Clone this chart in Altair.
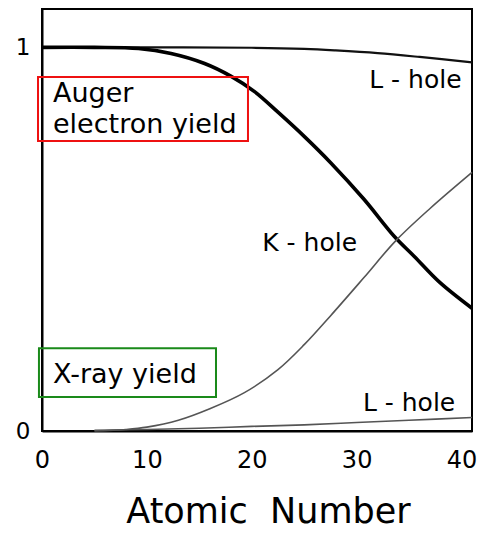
import altair as alt
import pandas as pd

# ---- data ----
z_auger_k = [0, 5, 9.2, 12.3, 15.5, 18.0, 20.3, 22.5, 25.0, 27.5, 30.7, 33.6, 35.5, 37.9, 41.0]
auger_k = [1.0, 1.0, 0.997, 0.984, 0.958, 0.925, 0.884, 0.831, 0.768, 0.700, 0.604, 0.507, 0.455, 0.388, 0.320]

z_auger_l = [0, 10, 20, 25, 28, 32, 36, 41]
auger_l = [1.0, 1.0, 0.999, 0.996, 0.992, 0.985, 0.975, 0.961]

z_xray_k = [5, 8, 10, 13, 16, 19.3, 22.5, 25, 27.5, 30.7, 33.7, 37, 41]
xray_k = [0.0, 0.004, 0.01, 0.028, 0.058, 0.1, 0.16, 0.225, 0.3, 0.4, 0.495, 0.58, 0.674]

z_xray_l = [5, 10, 15, 20, 25, 30, 35, 41]
xray_l = [0.002, 0.004, 0.007, 0.012, 0.016, 0.022, 0.028, 0.035]

x_ticks = [0, 10, 20, 30, 40]
y_ticks = [0, 1]

# annotation texts (in data units)
hole_labels = ["L - hole", "K - hole", "L - hole"]
hole_z = [31.2, 21.0, 30.6]
hole_v = [0.914, 0.49, 0.073]

box_texts = ["Auger", "electron yield", "X-ray yield"]
box_text_z = [1.05, 1.05, 1.05]
box_text_v = [0.858, 0.777, 0.125]

box_names = ["auger", "xray"]
box_z1 = [-0.38, -0.29]
box_z2 = [19.64, 16.59]
box_v1 = [0.756, 0.0886]
box_v2 = [0.923, 0.216]
box_colors = ["#ee1111", "#1a8a1a"]

FONT = "DejaVu Sans"

xs = alt.Scale(domain=[0, 41], nice=False, zero=False)
ys = alt.Scale(domain=[0, 1.1], nice=False, zero=False)

x_axis = alt.Axis(values=x_ticks, format="d", ticks=False, tickSize=0, grid=False,
                  domainColor="black", domainWidth=2, labelFlush=False,
                  labelFont=FONT, labelFontSize=24, labelColor="black",
                  labelPadding=17, title="Atomic\u00a0 Number", titleFont=FONT, titleFontSize=35,
                  titleFontWeight="normal", titleColor="black", titleX=226, titleY=91,
                  titleBaseline="alphabetic", titleAlign="center")
y_axis = alt.Axis(values=y_ticks, format="d", ticks=False, tickSize=0, grid=False,
                  domainColor="black", domainWidth=2, labelFlush=False,
                  labelFont=FONT, labelFontSize=23, labelColor="black",
                  labelPadding=12, title=None)


def X(field):
    return alt.X(field, scale=xs, axis=x_axis)


def Y(field):
    return alt.Y(field, scale=ys, axis=y_axis)


def line_layer(z, v, color, width):
    df = pd.DataFrame({"z": z, "v": v})
    return alt.Chart(df).mark_line(color=color, strokeWidth=width, interpolate="catmull-rom").encode(
        x=X("z:Q"), y=Y("v:Q"),
    )


l_auger_l = line_layer(z_auger_l, auger_l, "#111111", 2.2)
l_auger_k = line_layer(z_auger_k, auger_k, "#000000", 3.6)
l_xray_k = line_layer(z_xray_k, xray_k, "#555555", 1.6)
l_xray_l = line_layer(z_xray_l, xray_l, "#555555", 1.6)

holes = alt.Chart(pd.DataFrame({"t": hole_labels, "z": hole_z, "v": hole_v})).mark_text(
    font=FONT, fontSize=25, align="left", baseline="middle", color="black"
).encode(x=X("z:Q"), y=Y("v:Q"), text="t:N")

btexts = alt.Chart(pd.DataFrame({"t": box_texts, "z": box_text_z, "v": box_text_v})).mark_text(
    font=FONT, fontSize=27, align="left", baseline="alphabetic", color="black"
).encode(x=X("z:Q"), y=Y("v:Q"), text="t:N")

boxes = alt.Chart(pd.DataFrame({"n": box_names, "z1": box_z1, "z2": box_z2,
                                "v1": box_v1, "v2": box_v2, "c": box_colors})).mark_rect(
    fill=None, fillOpacity=0, strokeWidth=2
).encode(
    x=X("z1:Q"), x2="z2:Q",
    y=Y("v1:Q"), y2="v2:Q",
    stroke=alt.Stroke("c:N", scale=None),
)

chart = alt.layer(l_auger_l, l_auger_k, l_xray_k, l_xray_l, holes, btexts, boxes).properties(
    width=430, height=422,
    autosize=alt.AutoSizeParams(type="none"),
    padding={"left": 34, "top": 1, "right": 5, "bottom": 100},
    background="white",
).configure_view(stroke="black", strokeWidth=2)

chart.save("out.html", embed_options={"renderer": "svg", "actions": False})
